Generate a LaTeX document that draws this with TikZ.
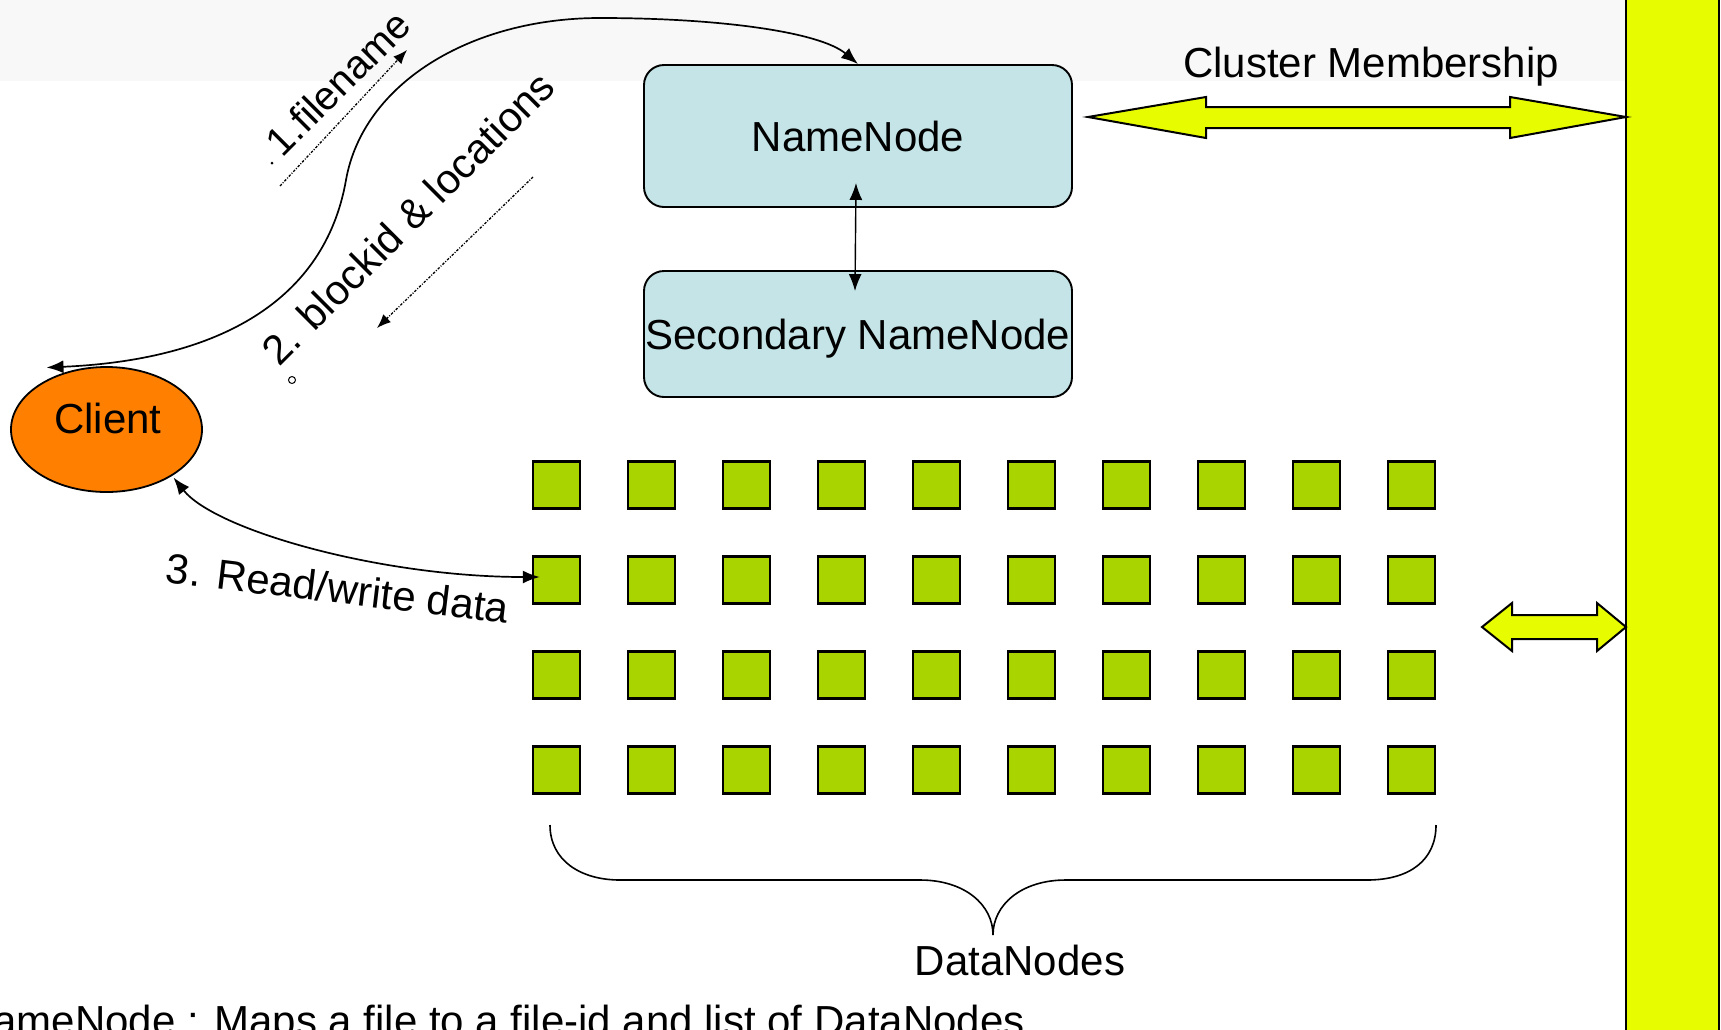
\documentclass[tikz,border=0pt]{standalone}
\usepackage{fontspec}
\setmainfont{Liberation Sans}
\usetikzlibrary{arrows.meta,shapes.geometric}
\definecolor{bandgray}{RGB}{248,248,248}
\definecolor{nnfill}{RGB}{196,228,231}
\definecolor{clientorange}{RGB}{255,127,0}
\definecolor{dngreen}{RGB}{170,212,0}
\definecolor{busyellow}{RGB}{232,252,0}
\begin{document}
\begin{tikzpicture}[x=1pt,y=-1pt,
  txt/.style={font=\fontsize{42}{50}\selectfont, inner sep=0pt},
  nnbox/.style={draw=black, line width=1.9pt, fill=nnfill, rounded corners=20pt,
    minimum width=428pt, minimum height=142pt, inner sep=0pt, text depth=0pt,
    font=\fontsize{42}{50}\selectfont},
  dn/.style={draw=black, line width=2.5pt, fill=dngreen, minimum size=47pt, inner sep=0pt},
  conn/.style={line width=1.7pt, {Latex[length=17pt,width=13pt]}-{Latex[length=17pt,width=13pt]}},
  hint/.style={line width=1.3pt, dash pattern=on 2.5pt off 1.5pt on 1pt off 1.5pt,
    -{Latex[length=14pt,width=11pt]}},
  fatarrow/.style={draw=black, line width=2pt, fill=busyellow, line join=miter}
]
\useasboundingbox (0,0) rectangle (1721,1029);
\clip (0,0) rectangle (1721,1029);
% background band and bus bar
\fill[bandgray] (0,0) rectangle (1626,81);
\draw[fill=busyellow, line width=2pt] (1626,-10) rectangle (1719,1040);

% fat double arrows
\draw[fatarrow] (1088,117) -- (1206,97) -- (1206,107) -- (1510,107) -- (1510,97) -- (1626,117)
  -- (1510,138) -- (1510,128) -- (1206,128) -- (1206,138) -- cycle;
\draw[fatarrow] (1482,627) -- (1512,603) -- (1512,615) -- (1597,615) -- (1597,603) -- (1626,627)
  -- (1597,651) -- (1597,639) -- (1512,639) -- (1512,651) -- cycle;

% name nodes
\node[nnbox] (nn) at (858,136) {NameNode};
\node[nnbox, minimum height=126pt] (snn) at (858,334) {Secondary NameNode};

% client
\node[ellipse, draw=black, line width=1.8pt, fill=clientorange, minimum width=191pt,
  minimum height=125pt, inner sep=0pt] (client) at (106.5,429.5) {};
\node[txt, anchor=base] (clienttxt) at (108,433) {Client};

% data nodes
\foreach \r in {0,...,3} {
  \foreach \c in {0,...,9} {
    \node[dn] (sq\r\c) at ({556.5+95*\c},{485+95*\r}) {};
  }
}

% connectors
\draw[conn] ([shift={(-60,-62)}]client.center) .. controls (220,360) and (325,300) .. (346,180)
  .. controls (363,84) and (470,18) .. (600,18)
  .. controls (720,18) and (820,32) .. (nn.north);
\draw[conn] ([shift={(8,-3)}]sq10.west) .. controls (380,577) and (215,530) .. ([shift={(67,48)}]client.center);
\draw[conn, line width=1.4pt] ([shift={(-2,-25)}]nn.south) -- ([shift={(-3,21)}]snn.north);

% hint arrows
\coordinate (h1s) at (280,186);
\coordinate (h1e) at (407,50);
\draw[hint] (h1s) -- (h1e);
\coordinate (h2s) at (533,177);
\coordinate (h2e) at (377,328);
\draw[hint] (h2s) -- (h2e);

% stray marks
\fill (272,163) circle[radius=1.5pt];
\draw[line width=1pt] (292,380) circle[radius=3.5pt];

% labels
\node[txt, rotate=45, font=\fontsize{40}{48}\selectfont] (lbl1) at (338,83) {1.filename};
\node[txt, rotate=45, font=\fontsize{41.5}{48}\selectfont] (lbl2) at (408,218) {2. blockid \& locations};
\node[txt, rotate=-6.8, anchor=base] (lbl3) at (336,603) {3. Read/write data};

% brace
\draw[line width=1.6pt] (550,825) .. controls (550,860) and (580,880) .. (620,880) -- (920,880)
  .. controls (965,880) and (993,905) .. (993,935)
  .. controls (993,905) and (1021,880) .. (1066,880) -- (1367,880)
  .. controls (1410,880) and (1436,860) .. (1436,825);

\node[txt, anchor=base] (cm) at (1371,77) {Cluster Membership};
\node[txt, anchor=base] (dnl) at (1020,975) {DataNodes};
\node[txt, anchor=base west] (note) at (-37,1035) {NameNode : Maps a file to a file-id and list of DataNodes};
\end{tikzpicture}
\end{document}
